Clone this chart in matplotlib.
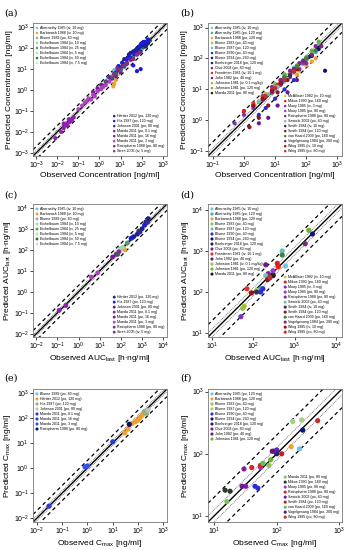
import numpy as np
import matplotlib
matplotlib.use("Agg")
import matplotlib.pyplot as plt
from matplotlib.ticker import LogLocator, NullLocator

plt.rcParams['font.family'] = ['Liberation Sans', 'DejaVu Sans']
plt.rcParams['mathtext.fontset'] = 'custom'
plt.rcParams['mathtext.rm'] = 'Liberation Sans'

# ---------------- panel (a): concentrations, first set of studies ----------------
a_labels = ["Abernethy 1985 (iv, 10 mg)", "Barbarash 1988 (iv, 10 mg)", "Blume 1989 (po, 80 mg)",
            "Eichelbaum 1984 (iv, 10 mg)", "Eichelbaum 1984 (iv, 25 mg)", "Eichelbaum 1984 (iv, 5 mg)",
            "Eichelbaum 1984 (iv, 50 mg)", "Eichelbaum 1984 (iv, 7.5 mg)",
            "Härtter 2012 (po, 120 mg)", "Hla 1987 (po, 120 mg)", "Johnson 2001 (po, 80 mg)",
            "Maeda 2011 (po, 0.1 mg)", "Maeda 2011 (po, 16 mg)", "Maeda 2011 (po, 3 mg)",
            "Ratiopharm 1988 (po, 80 mg)", "Streit 2005 (iv, 5 mg)"]
a_obs = [[2.5, 4, 6, 9, 14, 22, 35, 60, 100, 5, 12],
         [4.5, 5, 6, 8, 12, 20],
         [20, 40, 80, 120, 150, 200],
         [2, 4, 8, 15, 30, 60],
         [5, 10, 20, 40, 80, 150],
         [1, 2, 4, 8, 15],
         [15, 30, 60, 120, 200, 250],
         [1.5, 3, 6, 12, 25],
         [15, 25, 40, 60, 80, 100, 120, 150, 180, 200, 100, 70, 50, 30, 130, 160, 220, 90],
         [8, 12, 20, 30, 45, 60, 80, 100, 150, 200, 60, 90, 40, 25],
         [3, 6, 10, 20, 35, 60, 90],
         [0.008, 0.015, 0.02, 0.025, 0.03, 0.04, 0.05, 0.06, 0.02, 0.035, 0.03, 0.045],
         [0.5, 0.8, 1.2, 2, 3, 5, 8, 12, 20, 30, 1.5, 4, 6, 10],
         [0.1, 0.15, 0.2, 0.3, 0.5, 0.8, 1.2, 1.5, 2, 3, 0.25, 0.6, 0.4],
         [5, 10, 20, 40, 60, 80, 7, 15],
         [2, 4, 6, 10, 15]]
a_pred = [[3.5, 5, 7, 10, 15, 22, 33, 55, 90, 9, 20],
          [1.5, 2.0, 3.0, 6, 12, 20],
          [25, 45, 70, 110, 140, 160],
          [2.5, 4.5, 8, 14, 28, 55],
          [6, 11, 20, 38, 75, 140],
          [1.3, 2.2, 4, 7, 14],
          [17, 32, 60, 110, 180, 230],
          [1.8, 3.2, 6, 11, 22],
          [30, 50, 70, 90, 110, 130, 150, 160, 170, 180, 140, 100, 80, 60, 200, 120, 250, 150],
          [14, 20, 30, 35, 50, 70, 120, 170, 200, 260, 8, 10, 15, 40],
          [4, 7, 11, 18, 30, 50, 70],
          [0.005, 0.01, 0.015, 0.02, 0.025, 0.03, 0.04, 0.05, 0.025, 0.04, 0.02, 0.035],
          [0.8, 1.2, 1.8, 2.5, 4, 6, 9, 14, 20, 28, 1.6, 3.5, 4.5, 7],
          [0.12, 0.18, 0.25, 0.4, 0.6, 0.9, 1.1, 1.4, 1.7, 2.5, 0.3, 0.5, 0.35],
          [6, 9, 18, 30, 50, 60, 11, 14],
          [2.5, 4, 6, 9, 13]]
a_colors = ["#6ec6e6", "#f0a030", "#a0a0a0", "#a8d8a0", "#50a060", "#c0e0b0", "#2e6b50", "#d0e8c0",
            "#20208a", "#1c1ce0", "#3a2a90", "#9020b0", "#7a1a9a", "#b040c0", "#8a2a8a", "#505070"]

# ---------------- panel (b): concentrations, second set of studies ----------------
b_labels = ["Abernethy 1985 (iv, 10 mg)", "Abernethy 1985 (po, 120 mg)", "Barbarash 1988 (po, 120 mg)",
            "Blume 1983 (po, 40 mg)", "Blume 1987 (po, 120 mg)", "Blume 1990 (po, 40 mg)",
            "Blume 1994 (po, 240 mg)", "Boehringer 2018 (po, 120 mg)", "Choi 2008 (po, 80 mg)",
            "Freedman 1981 (iv, 10.1 mg)", "John 1982 (po, 40 mg)", "Johnston 1981 (iv, 0.1 mg/kg)",
            "Johnston 1981 (po, 120 mg)", "Maeda 2011 (po, 80 mg)",
            "McAllister 1982 (iv, 10 mg)", "Mikus 1990 (po, 160 mg)", "Mooy 1985 (iv, 3 mg)",
            "Mooy 1985 (po, 80 mg)", "Ratiopharm 1988 (po, 80 mg)", "Sawicki 2002 (po, 40 mg)",
            "Smith 1984 (iv, 10 mg)", "Smith 1984 (po, 120 mg)", "van Haard 2009 (po, 160 mg)",
            "Vogelgesang 1984 (po, 200 mg)", "Wing 1985 (iv, 10 mg)", "Wing 1985 (po, 80 mg)"]
b_obs = [[5, 10, 20, 40, 80],
         [20, 50, 100, 150, 200],
         [10, 30, 60, 100, 150, 200, 50],
         [5, 10, 20, 40, 60],
         [20, 40, 80, 150, 250],
         [3, 5, 10, 20, 40],
         [30, 80, 150, 250, 300, 400],
         [10, 20, 40, 80, 120],
         [2, 4, 8, 15, 30, 60, 100, 200],
         [1, 2, 4, 8, 15, 30],
         [3, 6, 12, 25, 50],
         [5, 10, 20, 40, 80],
         [20, 50, 100, 150, 250],
         [5, 10, 20, 40],
         [2, 4, 8, 16],
         [1, 2, 3, 5, 8, 12, 20, 30, 50, 80],
         [0.5, 1, 2, 4, 8],
         [5, 10, 20, 40, 80],
         [8, 15, 30, 60, 100],
         [3, 6, 12, 24],
         [4, 8, 16, 30],
         [1.5, 3, 6, 12, 25, 50],
         [20, 50, 100, 200],
         [15, 40, 80, 150, 300],
         [2, 4, 8, 15],
         [5, 10, 20, 40]]
b_pred = [[6, 10, 18, 35, 70],
          [25, 50, 90, 130, 160],
          [12, 25, 40, 60, 80, 100, 30],
          [7, 15, 30, 50, 70],
          [30, 50, 90, 160, 300],
          [1.5, 2.5, 5, 10, 20],
          [30, 80, 120, 200, 250, 40],
          [12, 25, 45, 80, 110],
          [3, 6, 12, 20, 40, 70, 100, 250],
          [2, 3.5, 6, 10, 18, 30],
          [0.8, 1.2, 3, 8, 20],
          [7, 12, 22, 40, 70],
          [30, 60, 110, 180, 350],
          [6, 11, 20, 38],
          [3, 5, 9, 16],
          [2, 3, 4, 6, 9, 14, 22, 30, 45, 70],
          [0.8, 1.5, 2.5, 4.5, 8],
          [6, 11, 22, 40, 70],
          [8, 14, 25, 45, 70],
          [4, 7, 12, 22],
          [5, 9, 16, 28],
          [0.6, 1.2, 3, 8, 20, 45],
          [25, 55, 100, 180],
          [20, 45, 80, 130, 250],
          [3, 5, 9, 16],
          [6, 11, 20, 38]]
b_colors = ["#6ec6e6", "#40b0b0", "#f0a030", "#90c060", "#60c0c0", "#2a2ae0", "#101080", "#202060",
            "#8020a0", "#e03030", "#6a1a8a", "#a0c030", "#70b030", "#202020",
            "#c0d060", "#e02020", "#8030c0", "#9040d0", "#8a2a8a", "#80c0a0", "#303060", "#8b1a1a",
            "#408040", "#7a2a7a", "#a01010", "#c03030"]

# ---------------- panel (c): AUC, first set ----------------
c_obs = [[90], [150], [700], [120], [200], [60], [350], [80],
         [400, 600, 1000, 1500, 2000], [300, 800, 1300], [700, 1800],
         [0.12, 0.25], [40, 60], [4, 8], [80], [70]]
c_pred = [[110], [100], [800], [130], [210], [70], [380], [90],
          [420, 550, 1000, 2100, 3000], [350, 700, 1500], [750, 2000],
          [0.13, 0.22], [45, 60], [5, 8], [80], [60]]

# ---------------- panel (d): AUC, second set ----------------
d_obs = [[600], [150], [400], [55], [500], [150, 170], [2700], [300], [230], [70], [200], [60],
         [2200], [300], [120], [380, 400], [50], [300], [250], [200], [120], [220], [500], [1800],
         [90], [250]]
d_pred = [[430], [120], [400], [40], [1000], [100, 120], [2600], [260], [280], [120], [460], [45],
          [3200], [250], [110], [500, 420], [25], [330], [220], [250], [100], [200], [800], [1500],
          [95], [230]]

# ---------------- panel (e): Cmax, first set ----------------
e_labels = ["Blume 1989 (po, 80 mg)", "Härtter 2012 (po, 120 mg)", "Hla 1987 (po, 120 mg)",
            "Johnson 2001 (po, 80 mg)", "Maeda 2011 (po, 0.1 mg)", "Maeda 2011 (po, 16 mg)",
            "Maeda 2011 (po, 3 mg)", "Ratiopharm 1988 (po, 80 mg)"]
e_obs = [[200], [30, 40, 60, 80, 100, 120, 150, 200], [180, 220], [250],
         [0.03], [10], [0.8, 1.0], [45]]
e_pred = [[180], [25, 35, 60, 70, 80, 100, 130, 160], [170, 150], [200],
          [0.03], [11], [1.1, 1.2], [55]]
e_colors = ["#6ec6e6", "#f0a030", "#90b080", "#c0c0c0", "#2a3ae0", "#2040d0", "#3050f0", "#101060"]

# ---------------- panel (f): Cmax, second set ----------------
f_labels = ["Abernethy 1985 (po, 120 mg)", "Barbarash 1988 (po, 120 mg)", "Blume 1983 (po, 40 mg)",
            "Blume 1987 (po, 120 mg)", "Blume 1990 (po, 40 mg)", "Blume 1994 (po, 240 mg)",
            "Boehringer 2018 (po, 120 mg)", "Choi 2008 (po, 80 mg)", "John 1982 (po, 40 mg)",
            "Johnston 1981 (po, 120 mg)",
            "Maeda 2011 (po, 80 mg)", "Mikus 1990 (po, 160 mg)", "Mooy 1985 (po, 80 mg)",
            "Ratiopharm 1988 (po, 80 mg)", "Sawicki 2002 (po, 40 mg)", "Smith 1984 (po, 120 mg)",
            "van Haard 2009 (po, 160 mg)", "Vogelgesang 1984 (po, 200 mg)", "Wing 1985 (po, 80 mg)"]
f_obs = [[230], [170], [60, 75], [180, 250], [45, 50], [260], [100], [30, 32], [28], [80],
         [16], [15, 18], [55], [40, 55], [100, 90], [120], [60], [85], [450]]
f_pred = [[120], [130], [70, 65], [330, 350], [30, 28], [240], [100], [57, 30], [30], [80],
          [17], [26, 25], [60], [60, 65], [115, 110], [100], [70], [110], [340]]
f_colors = ["#6ec6e6", "#f0a030", "#90c060", "#a0d080", "#2a2ae0", "#101080", "#202060", "#8020a0",
            "#6a1a8a", "#70b030",
            "#80c060", "#2a3a2a", "#9040d0", "#e02020", "#5a20c0", "#c02020", "#60c060", "#5a1a6a",
            "#c03030"]


def draw_panel(ax, obs, pred, colors, labels, split, lim, ticks, xlabel, ylabel, msize):
    lo, hi = lim
    line = np.array([lo, hi])
    ax.plot(line, line, color="black", lw=1.0, zorder=1)
    for f in (1.25, 0.8):
        ax.plot(line, line * f, color="#555555", lw=0.6, ls=(0, (1, 1.2)), zorder=1)
    for f in (2.0, 0.5):
        ax.plot(line, line * f, color="black", lw=0.9, ls=(0, (3, 2.5)), zorder=1)
    handles = []
    for o, p, c in zip(obs, pred, colors):
        h = ax.scatter(o, p, s=msize, color=c, edgecolors="none", zorder=3)
        handles.append(h)
    ax.set_xscale("log")
    ax.set_yscale("log")
    ax.set_xlim(lo, hi)
    ax.set_ylim(lo, hi)
    ax.xaxis.set_major_locator(LogLocator(base=10, numticks=20))
    ax.yaxis.set_major_locator(LogLocator(base=10, numticks=20))
    ax.xaxis.set_minor_locator(NullLocator())
    ax.yaxis.set_minor_locator(NullLocator())
    ax.set_xticks(ticks)
    ax.set_yticks(ticks)
    ax.tick_params(labelsize=5.0, length=2, width=0.5, pad=1)
    for s in ax.spines.values():
        s.set_color("#777777")
        s.set_linewidth(0.6)
    ax.set_xlabel(xlabel, fontsize=6.0, labelpad=0.5)
    ax.set_ylabel(ylabel, fontsize=6.0, labelpad=0.5)
    kw = dict(fontsize=2.6, frameon=False, handlelength=0.6, handletextpad=0.4,
              labelspacing=0.28, borderaxespad=0.4, markerscale=0.6, scatterpoints=1)
    leg1 = ax.legend(handles[:split], labels[:split], loc="upper left", **kw)
    if split < len(labels):
        ax.add_artist(leg1)
        ax.legend(handles[split:], labels[split:], loc="lower right", **kw)


fig = plt.figure(figsize=(3.49, 5.5), dpi=100)
W, H = 349.0, 550.0
aw, ah = 134 / W, 133 / H
lefts = [33 / W, 208 / W]
bottoms = [1 - 156 / H, 1 - 337 / H, 1 - 522 / H]

conc_x = "Observed Concentration [ng/ml]"
conc_y = "Predicted Concentration [ng/ml]"
auc_x = r"Observed AUC$_{\mathrm{last}}$ [h$\cdot$ng/ml]"
auc_y = r"Predicted AUC$_{\mathrm{last}}$ [h$\cdot$ng/ml]"
cmax_x = r"Observed C$_{\mathrm{max}}$ [ng/ml]"
cmax_y = r"Predicted C$_{\mathrm{max}}$ [ng/ml]"

ax_a = fig.add_axes([lefts[0], bottoms[0], aw, ah])
draw_panel(ax_a, a_obs, a_pred, a_colors, a_labels, 8, (7e-4, 1.6e3),
           [1e-3, 1e-2, 1e-1, 1, 10, 100, 1000], conc_x, conc_y, 9)
ax_b = fig.add_axes([lefts[1], bottoms[0], aw, ah])
draw_panel(ax_b, b_obs, b_pred, b_colors, b_labels, 14, (7e-2, 1.4e3),
           [1e-1, 1, 10, 100, 1000], conc_x, conc_y, 9)
ax_c = fig.add_axes([lefts[0], bottoms[1], aw, ah])
draw_panel(ax_c, c_obs, c_pred, a_colors, a_labels, 8, (7e-3, 1.5e4),
           [1e-2, 1e-1, 1, 10, 100, 1000, 1e4], auc_x, auc_y, 12)
ax_d = fig.add_axes([lefts[1], bottoms[1], aw, ah])
draw_panel(ax_d, d_obs, d_pred, b_colors, b_labels, 14, (8, 1.4e4),
           [10, 100, 1000, 1e4], auc_x, auc_y, 14)
ax_e = fig.add_axes([lefts[0], bottoms[2], aw, ah])
draw_panel(ax_e, e_obs, e_pred, e_colors, e_labels, 8, (7e-3, 1.4e3),
           [1e-2, 1e-1, 1, 10, 100, 1000], cmax_x, cmax_y, 14)
ax_f = fig.add_axes([lefts[1], bottoms[2], aw, ah])
draw_panel(ax_f, f_obs, f_pred, f_colors, f_labels, 10, (8, 1.1e3),
           [10, 100, 1000], cmax_x, cmax_y, 14)

for lab, x, y in [("(a)", 4, 13), ("(b)", 180, 13), ("(c)", 4, 195),
                  ("(d)", 180, 195), ("(e)", 4, 378), ("(f)", 180, 378)]:
    fig.text(x / W, 1 - y / H, lab, fontsize=7, family="DejaVu Serif", va="center", ha="left")

fig.savefig("out.png", dpi=100)
